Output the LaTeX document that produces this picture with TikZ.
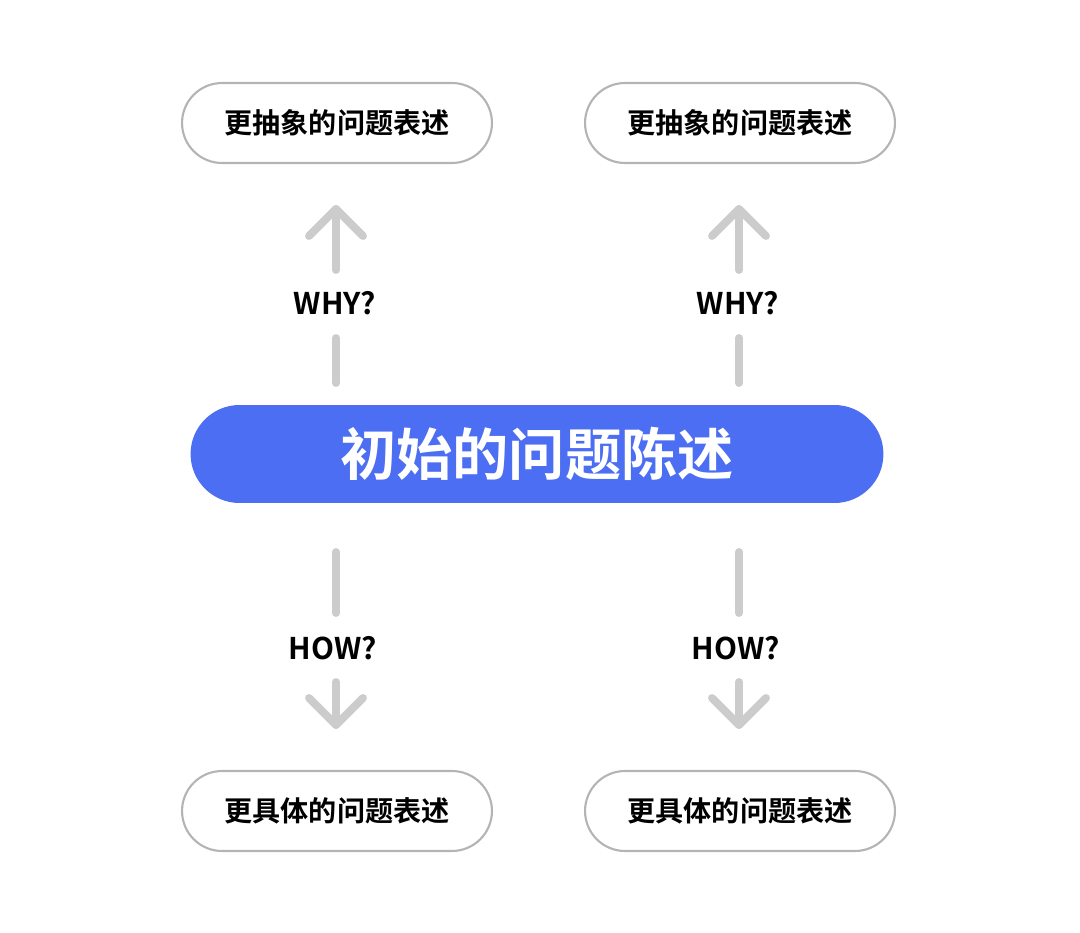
\documentclass[tikz,border=0pt]{standalone}
\usepackage{fontspec}
\setmainfont{Noto Sans CJK SC}
\newfontfamily\cjkbold{Noto Sans CJK SC Bold}
\definecolor{pillblue}{HTML}{4C6EF2}
\definecolor{arrowgray}{HTML}{CCCCCC}
\definecolor{pillline}{HTML}{B4B4B4}
\tikzset{
  pill/.style = {draw = pillline, line width = 1.2pt, rounded corners = 0.8cm,
    minimum width = 6.2cm, minimum height = 1.6cm, fill = white,
    font = \cjkbold\fontsize{16}{18}\selectfont},
  mainpill/.style = {fill = pillblue, rounded corners = 0.98cm,
    minimum width = 13.86cm, minimum height = 1.96cm, text = white,
    font = \cjkbold\fontsize{32}{36}\selectfont},
  tag/.style = {font = \cjkbold\fontsize{17}{20}\selectfont},
  grayline/.style = {arrowgray, line width = 4.5pt, line cap = round, line join = round}
}
\begin{document}
\begin{tikzpicture}[x = 0.02cm, y = -0.02cm]
  \useasboundingbox (0, 0) rectangle (1080, 933);

  \node[mainpill] (start) at (537, 454) {初始的问题陈述};

  \foreach \name/\cx in {left/337, right/740} {
    \node[pill] (up\name) at (\cx, 123) {更抽象的问题表述};
    \node[pill] (down\name) at (\cx, 811) {更具体的问题表述};
    \node[tag] (why\name) at (\cx - 2, 303) {WHY?};
    \node[tag] (how\name) at (\cx - 4, 648) {HOW?};

    % up: line, then arrow with open head
    \coordinate (wa\name) at (\cx - 1, 383);
    \coordinate (wb\name) at (\cx - 1, 338);
    \draw[grayline] (wa\name) -- (wb\name);
    \coordinate (wc\name) at (\cx - 1, 270);
    \coordinate (wd\name) at (\cx - 1, 209);
    \draw[grayline] (wc\name) -- (wd\name);
    \draw[grayline] ([xshift = -0.54cm, yshift = -0.54cm] wd\name) -- (wd\name)
      -- ([xshift = 0.54cm, yshift = -0.54cm] wd\name);

    % down
    \coordinate (ha\name) at (\cx - 1, 552);
    \coordinate (hb\name) at (\cx - 1, 613);
    \draw[grayline] (ha\name) -- (hb\name);
    \coordinate (hc\name) at (\cx - 1, 682);
    \coordinate (hd\name) at (\cx - 1, 725);
    \draw[grayline] (hc\name) -- (hd\name);
    \draw[grayline] ([xshift = -0.54cm, yshift = 0.54cm] hd\name) -- (hd\name)
      -- ([xshift = 0.54cm, yshift = 0.54cm] hd\name);
  }
\end{tikzpicture}
\end{document}
